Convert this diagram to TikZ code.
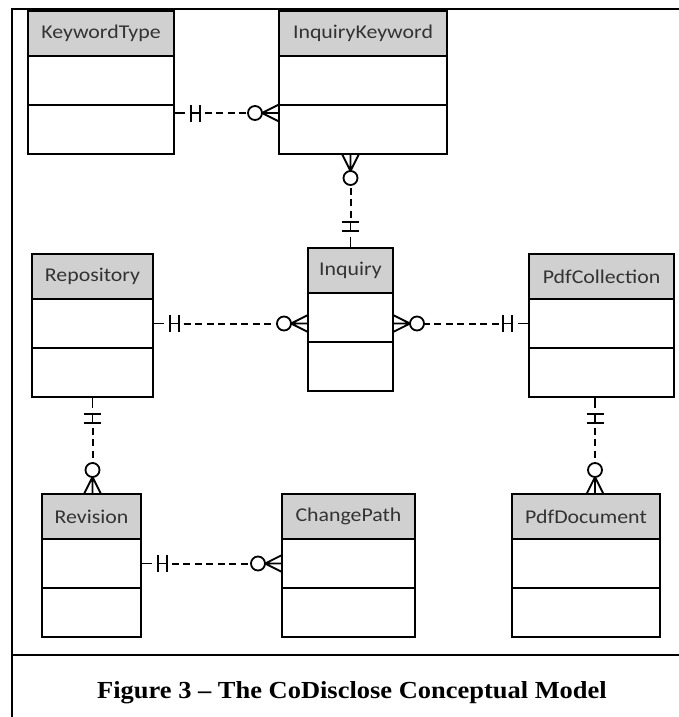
\documentclass[tikz,border=0pt]{standalone}
\usepackage{fontspec}
\usepackage{tikz}
\usetikzlibrary{positioning, decorations.markings}
\newfontfamily\boxfont[FakeStretch=1.12]{Carlito}
\newfontfamily\capfont[FakeStretch=1.08]{Liberation Serif}
\definecolor{headgray}{RGB}{208,208,208}

\tikzstyle{entity} = [rectangle, draw=black, line width=1.2pt, outer sep=0pt, fill=headgray,
minimum height=45pt, text=black!80, font=\boxfont\fontsize{19.5}{22}\selectfont]
\tikzstyle{attr} = [rectangle, draw=black, line width=1.2pt, outer sep=0pt, fill=white, minimum height=49pt]
\tikzstyle{frame} = [line width=2.2pt]
\tikzstyle{relmark} = [solid, line width=1.8pt, shorten <=0pt, shorten >=0pt]

% one side: stub + double bar, many side: circle + crow's foot
\newcommand{\onemark}{\draw[relmark] (0pt,0pt) -- (11pt,0pt) (17pt,0pt) -- (26pt,0pt)
  (17pt,-8.5pt) -- (17pt,8.5pt) (26pt,-8.5pt) -- (26pt,8.5pt);}
\newcommand{\manymark}{\begin{scope}[xscale=-1]
  \draw[relmark] (0pt,0pt) -- (17pt,0pt) (0pt,8.5pt) -- (17pt,0pt) -- (0pt,-8.5pt);
  \draw[relmark, fill=white] (24pt,0pt) circle (7pt);
  \end{scope}}
\tikzstyle{rel} = [line width=2pt, dash pattern=on 7pt off 4.5pt, dash phase=7pt,
shorten <=26pt, shorten >=31pt, postaction={decorate},
decoration={markings, mark=at position 0 with {\onemark}, mark=at position 1 with {\manymark}}]

\begin{document}
\begin{tikzpicture}[x=1pt, y=1pt]

        \useasboundingbox (0,0) rectangle (678,-717);

        % \draw[help lines, step=50] (0,0) grid (678,-717);

        \draw [frame] (680,-9) -- (12,-9) -- (12,-730);
        \draw [frame] (12,-655) -- (680,-655);

        \node (KT) [entity, minimum width=146pt] at (101,-33.5) {KeywordType};
        \node (KT1) [attr, minimum width=146pt, below=0pt of KT] {};
        \node (KT2) [attr, minimum width=146pt, below=0pt of KT1] {};

        \node (IK) [entity, minimum width=168pt] at (363,-33.5) {InquiryKeyword};
        \node (IK1) [attr, minimum width=168pt, below=0pt of IK] {};
        \node (IK2) [attr, minimum width=168pt, below=0pt of IK1] {};

        \node (REP) [entity, minimum width=121pt] at (92.5,-276.5) {Repository};
        \node (REP1) [attr, minimum width=121pt, below=0pt of REP] {};
        \node (REP2) [attr, minimum width=121pt, below=0pt of REP1] {};

        \node (INQ) [entity, minimum width=85pt] at (350.5,-270.5) {Inquiry};
        \node (INQ1) [attr, minimum width=85pt, below=0pt of INQ] {};
        \node (INQ2) [attr, minimum width=85pt, below=0pt of INQ1] {};

        \node (PC) [entity, minimum width=145pt] at (601.5,-276.5) {PdfCollection};
        \node (PC1) [attr, minimum width=145pt, below=0pt of PC] {};
        \node (PC2) [attr, minimum width=145pt, below=0pt of PC1] {};

        \node (REV) [entity, minimum width=99pt] at (91.5,-516.5) {Revision};
        \node (REV1) [attr, minimum width=99pt, below=0pt of REV] {};
        \node (REV2) [attr, minimum width=99pt, below=0pt of REV1] {};

        \node (CP) [entity, minimum width=133pt] at (348.5,-516.5) {ChangePath};
        \node (CP1) [attr, minimum width=133pt, below=0pt of CP] {};
        \node (CP2) [attr, minimum width=133pt, below=0pt of CP1] {};

        \node (PD) [entity, minimum width=148pt] at (586,-516.5) {PdfDocument};
        \node (PD1) [attr, minimum width=148pt, below=0pt of PD] {};
        \node (PD2) [attr, minimum width=148pt, below=0pt of PD1] {};

        \draw [rel] ([yshift=-8pt]KT1.south east) -- ([yshift=-8pt]IK1.south west);
        \draw [rel] (INQ.north) -- (INQ.north |- IK2.south);
        \draw [rel] (REP1.east) -- (REP1.east -| INQ1.west);
        \draw [rel] (PC1.west) -- (PC1.west -| INQ1.east);
        \draw [rel] (REP2.south) -- (REP2.south |- REV.north);
        \draw [rel] (REV1.east) -- (CP1.west);
        \draw [rel] ([xshift=9pt]PD.north |- PC2.south) -- ([xshift=9pt]PD.north);

        \node (CAP) [anchor=base, font=\capfont\bfseries\fontsize{24.5}{28}\selectfont] at (352,-698)
        {Figure 3 – The CoDisclose Conceptual Model};

    \end{tikzpicture}
\end{document}
